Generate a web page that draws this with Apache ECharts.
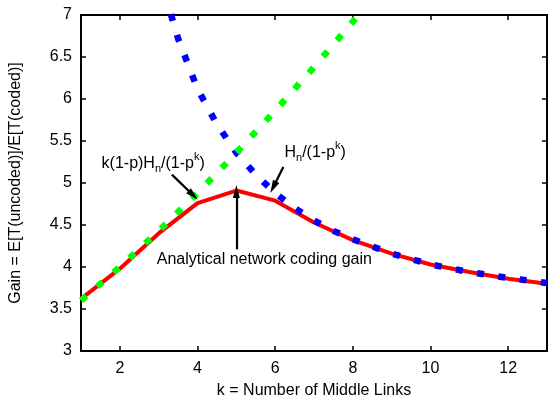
<!DOCTYPE html>
<html><head><meta charset="utf-8">
<script src="https://cdn.jsdelivr.net/npm/echarts@6/dist/echarts.min.js"></script>
<style>html,body{margin:0;padding:0;background:#fff}#c{width:549px;height:398px}</style>
</head><body><div id="c"></div>
<script>
// ---- data ----
const kValues = [1,2,3,4,5,6,7,8,9,10,11,12,13];
const analyticalGain = [3.62,3.98,4.40,4.76,4.91,4.79,4.53,4.32,4.16,4.03,3.94,3.86,3.80];
const hnK = [3,3.5,4,4.5,5,5.5,6,6.5,7,7.5,8,9,10,11,12,13];
const hnGain = [7.5,6.72,6.12,5.70,5.36,5.10,4.88,4.70,4.555,4.43,4.33,4.16,4.03,3.94,3.87,3.81];
const kpK = [1,2,3,4,5,6,7,8,9];
const kpGain = [3.6,4.0,4.43,4.88,5.36,5.86,6.38,6.92,7.48];
const xTickValues = [2,4,6,8,10,12];
const xTitle = 'k = Number of Middle Links';
const yTitle = 'Gain = E[T(uncoded)]/E[T(coded)]';
// annotations: [text anchor (k, value)], arrow [from, to]
const annKp = {parts:[['k(1-p)H','n'],['n','sub'],['/(1-p','n'],['k','sup'],[')','n']], at:[1.53,5.18], arrow:[[3.34,5.10],[3.89,4.855]]};
const annHn = {parts:[['H','n'],['n','sub'],['/(1-p','n'],['k','sup'],[')','n']], at:[6.24,5.31], arrow:[[6.21,5.19],[5.95,4.95]]};
const annGain = {parts:[['Analytical network coding gain','n']], at:[2.95,4.04], arrow:[[5.0,4.21],[5.0,4.90]]};

const FONT = '"Liberation Sans", Arial, Helvetica, sans-serif';
const zip = (a,b)=>a.map((v,i)=>[v,b[i]]);

const chart = echarts.init(document.getElementById('c'));
const arrowLines = [annKp, annHn, annGain].map(a => [{coord:a.arrow[0]},{coord:a.arrow[1]}]);

const axisCommon = {
  axisLine:{show:true, onZero:false, lineStyle:{color:'#000', width:2}},
  axisTick:{show:true, inside:true, length:5, lineStyle:{color:'#000', width:1.5}},
  splitLine:{show:false}
};

chart.setOption({
  backgroundColor:'#fff',
  animation:false,
  grid:{left:81, right:2, top:15, bottom:47, containLabel:false, outerBoundsMode:'none'},
  xAxis:[
    Object.assign({}, axisCommon, {type:'value', min:1, max:13, position:'bottom',
      axisTick:Object.assign({}, axisCommon.axisTick, {customValues:xTickValues}),
      axisLabel:{customValues:xTickValues, color:'#000', fontSize:16, fontFamily:FONT, margin:10},
      name:xTitle, nameLocation:'middle', nameGap:32,
      nameTextStyle:{color:'#000', fontSize:16, fontFamily:FONT}}),
    Object.assign({}, axisCommon, {type:'value', min:1, max:13, position:'top',
      axisTick:Object.assign({}, axisCommon.axisTick, {customValues:xTickValues}),
      axisLabel:{show:false}})
  ],
  yAxis:[
    Object.assign({}, axisCommon, {type:'value', min:3, max:7, interval:0.5, position:'left',
      axisLabel:{color:'#000', fontSize:16, fontFamily:FONT, margin:9},
      name:yTitle, nameLocation:'middle', nameGap:57,
      nameTextStyle:{color:'#000', fontSize:16, fontFamily:FONT}}),
    Object.assign({}, axisCommon, {type:'value', min:3, max:7, interval:0.5, position:'right',
      axisLabel:{show:false}})
  ],
  series:[
    {type:'line', name:'Analytical network coding gain', data:zip(kValues, analyticalGain),
     showSymbol:false, lineStyle:{color:'#ff0000', width:4}, z:2,
     markLine:{silent:true, symbol:['none','triangle'], symbolSize:[7,13],
       label:{show:false}, lineStyle:{color:'#000', width:2.2, type:'solid'},
       emphasis:{disabled:true}, data:arrowLines}},
    {type:'line', name:'Hn/(1-p^k)', data:zip(hnK, hnGain), showSymbol:false, clip:true,
     lineStyle:{color:'#0000ff', width:6.5, type:[7,14.5], cap:'butt'}, z:3},
    {type:'line', name:'k(1-p)Hn/(1-p^k)', data:zip(kpK, kpGain), showSymbol:false, clip:true,
     lineStyle:{color:'#00ff00', width:6.5, type:[7,14.5], cap:'butt'}, z:4}
  ]
});

const mctx = document.createElement('canvas').getContext('2d');
function tw(t, s){ mctx.font = s + 'px ' + FONT; return mctx.measureText(t).width; }
function richText(a){
  const p = chart.convertToPixel({xAxisIndex:0, yAxisIndex:0}, a.at);
  let x = p[0]; const els = [];
  a.parts.forEach(([t, kind]) => {
    const s = kind === 'n' ? 16 : 11;
    const dy = kind === 'sub' ? 4 : (kind === 'sup' ? -8 : 0);
    els.push({type:'text', x:x, y:p[1] + dy - 0.27*s, silent:true,
      style:{text:t, font: s + 'px ' + FONT, fill:'#000', align:'left', verticalAlign:'middle'}});
    x += tw(t, s);
  });
  return els;
}
chart.setOption({graphic:{elements:[].concat(richText(annKp), richText(annHn), richText(annGain))}});
</script></body></html>
